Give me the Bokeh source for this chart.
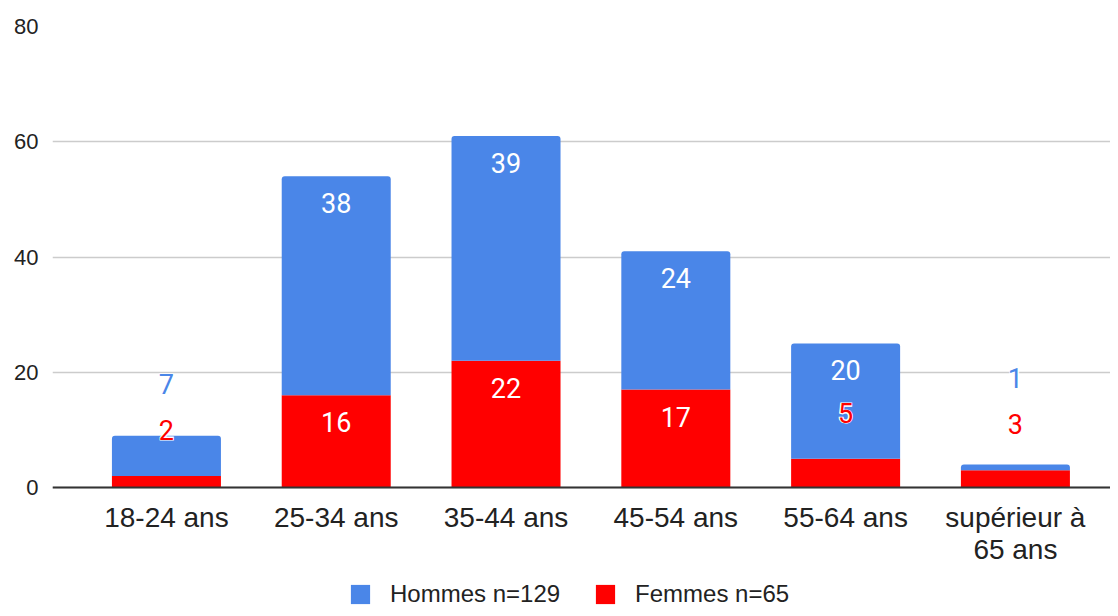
from bokeh.plotting import figure
from bokeh.models import ColumnDataSource, Range1d, FixedTicker, Legend, LegendItem
from bokeh.core.properties import value
from bokeh.embed import file_html
from bokeh.resources import INLINE

# ---- data ----
categories = ["18-24 ans", "25-34 ans", "35-44 ans", "45-54 ans", "55-64 ans", "supérieur à\n65 ans"]
hommes = [7, 38, 39, 24, 20, 1]
femmes = [2, 16, 22, 17, 5, 3]
y_ticks = [0, 20, 40, 60, 80]
series_names = ["Hommes n=129", "Femmes n=65"]

BLUE = "#4a86e8"
RED = "#ff0000"
TXT = "#222222"

xs = list(range(len(categories)))
tops_f = femmes
tops_h = [f + h for f, h in zip(femmes, hommes)]

src = ColumnDataSource(dict(x=xs, tf=tops_f, th=tops_h, zero=[0] * len(xs)))

PX_PER_UNIT = 461 / 80.0
FRAME_H = 582
y_bottom = -(FRAME_H - 461) / PX_PER_UNIT

p = figure(output_backend="svg", toolbar_location=None,
           frame_width=1058, frame_height=FRAME_H,
           min_border_left=52, min_border_right=0, min_border_top=26, min_border_bottom=0,
           x_range=Range1d(-0.671, 5.560), y_range=Range1d(y_bottom, 80))
p.outline_line_color = None
p.background_fill_color = "white"
p.border_fill_color = "white"

bw = 0.642
rf = p.vbar(x="x", bottom="zero", top="tf", width=bw, source=src,
            fill_color=RED, line_color=None)
rh = p.vbar(x="x", bottom="tf", top="th", width=bw, source=src,
            fill_color=BLUE, line_color=None, border_radius=(3, 3, 0, 0))

# ---- data labels ----
THRESH = 10
in_x, in_y, in_t = [], [], []
out_x, out_y, out_t, out_c, out_o = [], [], [], [], []
for i in xs:
    if femmes[i] >= THRESH:
        in_x.append(i); in_y.append(tops_f[i]); in_t.append(str(femmes[i]))
    else:
        out_x.append(i); out_y.append(tops_f[i]); out_t.append(str(femmes[i]))
        out_c.append(RED); out_o.append(-46)
    if hommes[i] >= THRESH:
        in_x.append(i); in_y.append(tops_h[i]); in_t.append(str(hommes[i]))
    else:
        out_x.append(i); out_y.append(tops_f[i]); out_t.append(str(hommes[i]))
        out_c.append(BLUE); out_o.append(-92)

isrc = ColumnDataSource(dict(x=in_x, y=in_y, t=in_t))
osrc = ColumnDataSource(dict(x=out_x, y=out_y, t=out_t, c=out_c, o=out_o))

LBL_FONT = value("Roboto")
p.text(x="x", y="y", text="t", source=isrc, text_color="white", y_offset=27,
       text_align="center", text_baseline="middle",
       text_font=LBL_FONT, text_font_size="27px")
# halo behind outside labels
p.text(x="x", y="y", text="t", source=osrc, text_color="white", y_offset="o",
       text_align="center", text_baseline="middle",
       text_font=LBL_FONT, text_font_size="27px", text_font_style="bold",
       text_outline_color="white")
p.text(x="x", y="y", text="t", source=osrc, text_color="c", y_offset="o",
       text_align="center", text_baseline="middle",
       text_font=LBL_FONT, text_font_size="27px")

# ---- axes ----
p.xgrid.grid_line_color = None
p.ygrid.grid_line_color = "#cccccc"
p.ygrid.grid_line_width = 1.3
p.ygrid.ticker = FixedTicker(ticks=y_ticks)

p.yaxis.ticker = FixedTicker(ticks=y_ticks)
p.yaxis.axis_line_color = None
p.yaxis.major_tick_line_color = None
p.yaxis.minor_tick_line_color = None
p.yaxis.major_tick_out = 0
p.yaxis.major_tick_in = 0
p.yaxis.major_label_standoff = 14
p.yaxis.major_label_text_font = "Liberation Sans"
p.yaxis.major_label_text_font_size = "22px"
p.yaxis.major_label_text_color = TXT

p.xaxis.fixed_location = 0
p.xaxis.ticker = FixedTicker(ticks=xs)
p.xaxis.major_label_overrides = {i: c for i, c in enumerate(categories)}
p.xaxis.axis_line_color = "#333333"
p.xaxis.axis_line_width = 2
p.xaxis.major_tick_line_color = None
p.xaxis.minor_tick_line_color = None
p.xaxis.major_tick_out = 0
p.xaxis.major_tick_in = 0
p.xaxis.major_label_standoff = 14
p.xaxis.major_label_text_font = "Liberation Sans"
p.xaxis.major_label_text_font_size = "28px"
p.xaxis.major_label_text_line_height = 1.05
p.xaxis.major_label_text_color = TXT
p.xaxis.major_label_text_align = "center"

# ---- legend ----
legend = Legend(items=[LegendItem(label=series_names[0], renderers=[rh]),
                       LegendItem(label=series_names[1], renderers=[rf])],
                orientation="horizontal", location=(296, 0),
                glyph_width=24, glyph_height=24, label_standoff=18, spacing=33,
                padding=0, margin=0, border_line_color=None,
                background_fill_alpha=0,
                label_text_font="Liberation Sans", label_text_font_size="24px",
                label_text_color=TXT, label_height=24)
p.add_layout(legend, "center")

open("out.html", "w").write(file_html(p, INLINE))
